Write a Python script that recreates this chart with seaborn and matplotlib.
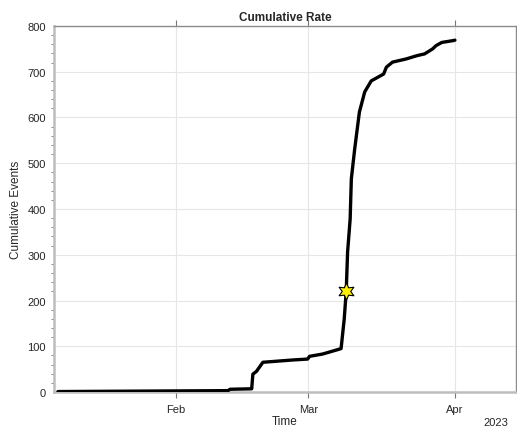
import numpy as np
import pandas as pd
import matplotlib
matplotlib.use("Agg")
import matplotlib.pyplot as plt
import matplotlib.dates as mdates
import seaborn as sns

# Cumulative event count over time
times = [
    "2023-01-07 00:00", "2023-02-12 00:00", "2023-02-12 10:00", "2023-02-17 00:00",
    "2023-02-17 06:00", "2023-02-18 00:00", "2023-02-19 09:00", "2023-02-25 16:00",
    "2023-02-28 20:00", "2023-03-01 06:00", "2023-03-04 00:00", "2023-03-07 00:00",
    "2023-03-07 22:00", "2023-03-08 14:00", "2023-03-09 00:00", "2023-03-09 07:00",
    "2023-03-09 20:00", "2023-03-10 02:00", "2023-03-10 19:00", "2023-03-11 19:00",
    "2023-03-12 22:00", "2023-03-14 07:00", "2023-03-16 22:00", "2023-03-17 12:00",
    "2023-03-18 19:00", "2023-03-21 17:00", "2023-03-23 22:00", "2023-03-25 14:00",
    "2023-03-27 07:00", "2023-03-28 00:00", "2023-03-29 05:00", "2023-03-31 14:00",
    "2023-04-01 00:00",
]
cum_events = [
    1, 3, 6, 7,
    39, 45, 65, 70,
    72, 78, 83, 92,
    95, 160, 220, 306,
    378, 466, 531, 612,
    656, 680, 695, 710,
    721, 728, 735, 739,
    750, 757, 764, 768,
    769,
]

# Largest event marker
main_time = ["2023-03-09 00:00"]
main_cum = [220]

df = pd.DataFrame({"Time": pd.to_datetime(times), "Cumulative Events": cum_events})
df_main = pd.DataFrame({"Time": pd.to_datetime(main_time), "Cumulative Events": main_cum})

sns.set_theme(style="whitegrid")
plt.rcParams["font.family"] = ["Liberation Sans", "DejaVu Sans"]

fig = plt.figure(figsize=(5.17, 4.27), dpi=100)
ax = fig.add_axes([0.1044, 0.0796, 0.8936, 0.8572])

sns.lineplot(data=df, x="Time", y="Cumulative Events", ax=ax,
             color="black", linewidth=2.4, estimator=None, sort=False, zorder=3)
sns.scatterplot(data=df_main, x="Time", y="Cumulative Events", ax=ax,
                marker=(6, 1, 0), s=150, color="#ffee00", edgecolor="black",
                linewidth=0.8, zorder=4)

ax.set_xlim(pd.Timestamp("2023-01-06 04:00"), pd.Timestamp("2023-04-13 22:00"))
ax.set_ylim(0, 800)

ax.xaxis.set_major_locator(mdates.MonthLocator())
ax.xaxis.set_major_formatter(mdates.DateFormatter("%b"))
ax.yaxis.set_major_locator(matplotlib.ticker.MultipleLocator(100))
ax.yaxis.set_minor_locator(matplotlib.ticker.MultipleLocator(20))

ax.grid(True, which="major", color="#e6e6e6", linewidth=0.8)
ax.grid(False, which="minor")
ax.set_facecolor("white")

for side in ["top", "right"]:
    ax.spines[side].set_visible(True)
    ax.spines[side].set_color("#8c8c8c")
    ax.spines[side].set_linewidth(1.0)
for side in ["left", "bottom"]:
    ax.spines[side].set_visible(True)
    ax.spines[side].set_color("#bdbdbd")
    ax.spines[side].set_linewidth(1.8)

ax.tick_params(axis="both", which="major", direction="out", length=4, width=0.8,
               color="#777777", labelsize=8, labelcolor="#262626", pad=2)
ax.tick_params(axis="y", which="minor", direction="out", length=2, width=0.6,
               color="#777777", left=True)
ax.tick_params(axis="x", which="major", top=True, bottom=True, pad=4.5)

ax.set_title("Cumulative Rate", fontsize=8.5, fontweight="bold", pad=4)
ax.set_xlabel("Time", fontsize=8.5, color="#262626", labelpad=1)
ax.set_ylabel("Cumulative Events", fontsize=8.5, color="#262626", labelpad=4)
ax.text(0.983, -0.082, "2023", transform=ax.transAxes, ha="right", va="center",
        fontsize=8, color="#262626")

fig.savefig("out.png", dpi=100)
